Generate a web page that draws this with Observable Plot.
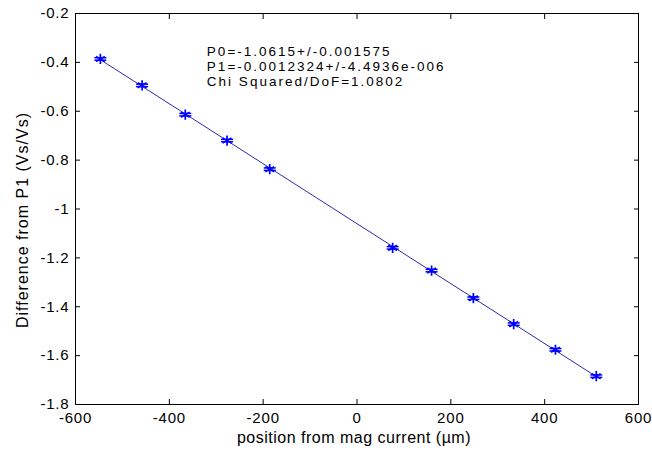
<!DOCTYPE html>
<html>
<head>
<meta charset="utf-8">
<script src="https://cdn.jsdelivr.net/npm/d3@7"></script>
<script src="https://cdn.jsdelivr.net/npm/@observablehq/plot@0.6"></script>
<style>
  html, body { margin: 0; padding: 0; background: #fff; }
  #chart svg { display: block; }
</style>
</head>
<body>
<div id="chart"></div>
<script>
// ---- data ----
const xPos  = [-547, -458, -366, -277, -186, 76, 159, 248, 334, 423, 510];
const yDiff = [-0.386, -0.494, -0.614, -0.720, -0.837, -1.159, -1.252, -1.365, -1.471, -1.576, -1.684];
const yErr  = [0.005, 0.005, 0.005, 0.005, 0.005, 0.005, 0.005, 0.005, 0.005, 0.005, 0.005];

const xTicks = [-600, -400, -200, 0, 200, 400, 600];
const yTicks = [-1.8, -1.6, -1.4, -1.2, -1, -0.8, -0.6, -0.4, -0.2];

const xLabel = "position from mag current (\u00b5m)";
const yLabel = "Difference from P1 (Vs/Vs)";
const annotationLines = [
  "P0=-1.0615+/-0.001575",
  "P1=-0.0012324+/-4.4936e-006",
  "Chi Squared/DoF=1.0802"
];
const annotationX = -320;
const annotationY = -0.33;

const data = xPos.map((x, i) => ({x, y: yDiff[i], lo: yDiff[i] - yErr[i], hi: yDiff[i] + yErr[i]}));

// horizontal cap symbol for error bars
const capSymbol = {
  draw(context, size) {
    const w = Math.sqrt(size / Math.PI);
    context.moveTo(-w, 0);
    context.lineTo(w, 0);
  }
};

const blue = "#0000ff";
const lineColor = "#2a2ab0";

const chart = Plot.plot({
  width: 652,
  height: 451,
  marginLeft: 75,
  marginRight: 14,
  marginTop: 13,
  marginBottom: 47,
  style: {fontFamily: "'Liberation Sans', Arial, sans-serif", fontSize: "15px", background: "#fff", color: "#000"},
  x: {domain: [-600, 600]},
  y: {domain: [-1.8, -0.2]},
  marks: [
    Plot.frame({stroke: "#000", strokeWidth: 1}),
    Plot.axisX({anchor: "bottom", ticks: xTicks, tickSize: -5, tickPadding: 13, tickFormat: d => String(d), label: null, fontSize: 15}),
    Plot.axisX({anchor: "top", ticks: xTicks, tickSize: -5, tickFormat: () => "", label: null}),
    Plot.axisY({anchor: "left", ticks: yTicks, tickSize: -5, tickPadding: 11, tickFormat: d => String(d), label: null, fontSize: 15}),
    Plot.axisY({anchor: "right", ticks: yTicks, tickSize: -5, tickFormat: () => "", label: null}),
    Plot.linearRegressionY(data, {x: "x", y: "y", ci: 0, stroke: lineColor, strokeWidth: 1}),
    Plot.ruleX(data, {x: "x", y1: "lo", y2: "hi", stroke: blue, strokeWidth: 1.5}),
    Plot.dot(data, {x: "x", y: "lo", symbol: capSymbol, r: 6, stroke: blue, strokeWidth: 1.5}),
    Plot.dot(data, {x: "x", y: "hi", symbol: capSymbol, r: 6, stroke: blue, strokeWidth: 1.5}),
    Plot.dot(data, {x: "x", y: "y", symbol: "asterisk", r: 4.8, stroke: blue, strokeWidth: 1.7}),
    Plot.text([annotationLines.join("\n")], {
      x: annotationX, y: annotationY, text: d => d, textAnchor: "start", lineAnchor: "top",
      lineHeight: 1.1, fontSize: 13.5, fill: "#000"
    }),
    Plot.text([xLabel], {frameAnchor: "bottom", text: d => d, lineAnchor: "top", dy: 27, dx: -3, fontSize: 16, fill: "#000"}),
    Plot.text([yLabel], {frameAnchor: "left", text: d => d, rotate: -90, lineAnchor: "top", dx: -59, dy: 119, fontSize: 16, fill: "#000"})
  ]
});

// letter spacing to mimic the wide rendering of the original figure
d3.select(chart).selectAll("text").each(function() {
  const t = this.textContent;
  let ls = "0.8px";
  if (t.startsWith("P0=")) ls = "2px";
  else if (t === xLabel) ls = "0.5px";
  else if (t === yLabel) ls = "1px";
  this.setAttribute("letter-spacing", ls);
  this.style.letterSpacing = ls;
});

document.getElementById("chart").appendChild(chart);
</script>
</body>
</html>
